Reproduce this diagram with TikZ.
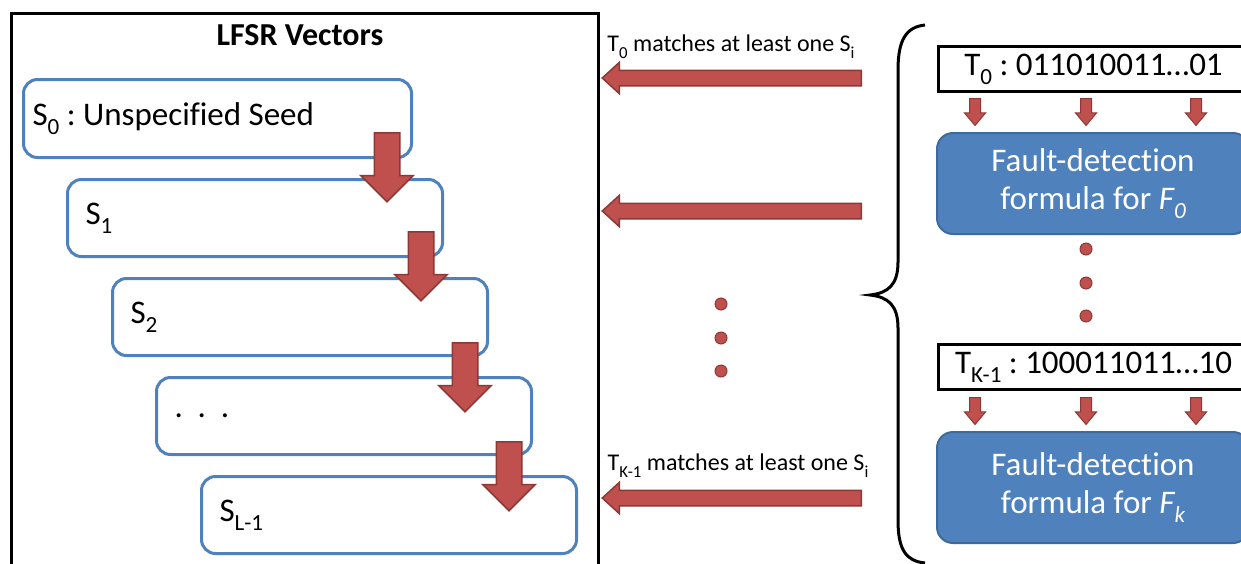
\documentclass[tikz,border=0pt]{standalone}
\usepackage{graphicx}
\usepackage{fontspec}
\setmainfont[Ligatures=NoCommon]{Carlito}
\usetikzlibrary{shapes.arrows}

\definecolor{seqblue}{HTML}{4F81BD}
\definecolor{formedge}{HTML}{3C6A9E}
\definecolor{arrred}{HTML}{C0504D}
\definecolor{arredge}{HTML}{8C3836}

\newcommand{\bigtxt}{\fontsize{33}{38}\selectfont}
\newcommand{\midtxt}{\fontsize{24}{29}\selectfont}
\newcommand{\sub}[1]{\raisebox{-0.28em}{\scalebox{0.7}{#1}}}
\frenchspacing

\begin{document}
\begin{tikzpicture}[x=1pt, y=-1pt,
    seqbox/.style={draw=seqblue, line width=3pt, rounded corners=14pt, text width=339pt, inner xsep=18pt, minimum height=77pt, align=flush left, anchor=north west, font=\bigtxt},
    vecbox/.style={draw=black, line width=3pt, minimum width=310pt, minimum height=45pt, inner sep=0pt, anchor=north west, font=\bigtxt},
    formula/.style={draw=formedge, fill=seqblue, line width=2pt, rounded corners=16pt, minimum width=312pt, text width=290pt, align=flush center, anchor=north west, text=white, font=\bigtxt},
    bigdown/.style={single arrow, shape border rotate=270, draw=arredge, fill=arrred, line width=1.5pt, inner sep=12pt, single arrow head extend=13.5pt, minimum height=69pt, anchor=tail},
    backarrow/.style={single arrow, shape border rotate=180, draw=arredge, fill=arrred, line width=1.5pt, inner sep=7pt, single arrow head extend=8pt, single arrow tip angle=85, minimum height=259pt, anchor=tail},
    smalldown/.style={single arrow, shape border rotate=270, draw=arredge, fill=arrred, line width=1pt, inner sep=5pt, single arrow head extend=5pt, single arrow tip angle=80, minimum height=27pt, anchor=tail},
    dot/.style={circle, draw=arredge, fill=arrred, line width=1pt, minimum size=12pt, inner sep=0pt}]

    \useasboundingbox (0,0) rectangle (1241,563);

    \node[draw, line width=3pt, minimum width=587pt, minimum height=570pt, anchor=north west] (frame) at (10,12) {};
    \node[font=\fontsize{32}{38}\selectfont\bfseries] (title) at (300,35) {LFSR Vectors};

    \node[seqbox, inner xsep=9pt, text width=370pt, minimum height=78pt] (s0) at (22,78) {S\sub{0} : Unspecified Seed};
    \node[seqbox] (s1) at (66,178) {S\sub{1}};
    \node[seqbox] (s2) at (111,277) {S\sub{2}};
    \node[seqbox] (s3) at (155,376) {.\hspace{0.45em}.\hspace{0.45em}.};
    \node[seqbox] (s4) at (200,475) {S\sub{L-1}};

    \node[bigdown] (a1) at (387,132) {};
    \node[bigdown] (a2) at (421,231) {};
    \node[bigdown] (a3) at (465,342) {};
    \node[bigdown] (a4) at (509,441) {};

    \node[backarrow] (b1) at (862,78) {};
    \node[backarrow] (b2) at (862,211) {};
    \node[backarrow] (b3) at (862,498) {};
    \node[font=\midtxt] (l1) at (731,47) {T\sub{0} matches at least one S\sub{i}};
    \node[font=\midtxt] (l3) at (738,466) {T\sub{K-1} matches at least one S\sub{i}};

    \node[dot] (d1) at (721,304) {};
    \node[dot] (d2) at (721,338) {};
    \node[dot] (d3) at (721,371) {};

    \draw[line width=3pt] (925,25) .. controls (906,27) and (898,40) .. (898,70) -- (898,262)
        .. controls (898,285) and (888,293) .. (870,295)
        .. controls (888,297) and (898,305) .. (898,328) -- (898,520)
        .. controls (898,550) and (906,561) .. (925,563);

    \node[vecbox] (t0) at (937,45) {T\sub{0} : 011010011…01};
    \node[smalldown] (c1) at (975,98) {};
    \node[smalldown] (c2) at (1086,98) {};
    \node[smalldown] (c3) at (1196,98) {};
    \node[formula, minimum height=101pt] (f0) at (936,132) {Fault-detection formula for \textit{F\sub{0}}};

    \node[dot] (e1) at (1086,249) {};
    \node[dot] (e2) at (1086,283) {};
    \node[dot] (e3) at (1086,316) {};

    \node[vecbox] (tk) at (937,343) {T\sub{K-1} : 100011011…10};
    \node[smalldown] (c4) at (975,397) {};
    \node[smalldown] (c5) at (1086,397) {};
    \node[smalldown] (c6) at (1196,397) {};
    \node[formula, minimum height=111pt] (fk) at (936,431) {Fault-detection formula for \textit{F\sub{k}}};

\end{tikzpicture}
\end{document}
